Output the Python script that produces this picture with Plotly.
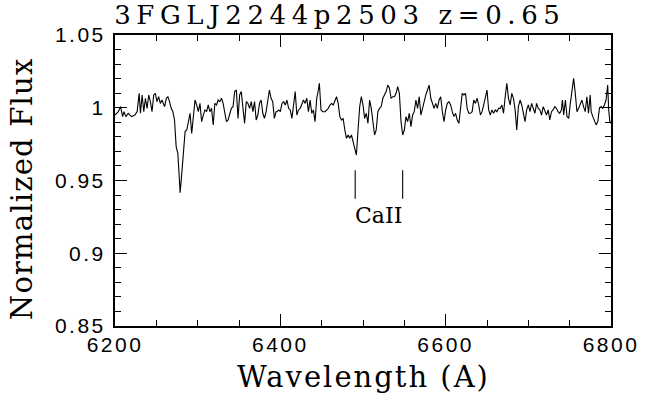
import plotly.graph_objects as go

# Normalized spectrum of 3FGL J2244.6+2503
wavelength = [
    6200.0, 6204.0, 6206.8, 6209.2, 6210.8, 6213.2, 6216.0, 6220.0, 6224.0, 6226.8,
    6229.2, 6230.8, 6232.8, 6234.8, 6236.8, 6238.8, 6240.8, 6242.8, 6244.8, 6246.8,
    6248.8, 6250.8, 6252.8, 6254.8, 6256.8, 6260.0, 6262.0, 6264.0, 6266.0, 6268.0,
    6270.0, 6272.0, 6274.0, 6276.0, 6277.2, 6278.8, 6280.8, 6282.8, 6284.8, 6286.8,
    6288.8, 6290.8, 6292.8, 6294.8, 6296.8, 6298.8, 6300.8, 6302.8, 6304.8, 6306.8,
    6308.8, 6310.8, 6312.8, 6314.8, 6316.8, 6318.8, 6320.8, 6322.8, 6324.8, 6326.8,
    6328.8, 6330.8, 6332.8, 6334.8, 6336.8, 6338.8, 6340.8, 6342.8, 6344.8, 6346.8,
    6348.8, 6350.8, 6352.8, 6354.8, 6356.8, 6358.8, 6360.8, 6362.8, 6364.8, 6366.8,
    6368.8, 6370.8, 6372.8, 6374.8, 6376.8, 6378.8, 6380.8, 6382.8, 6384.8, 6386.8,
    6388.8, 6390.8, 6392.8, 6394.8,
    6396.0, 6398.0, 6400.0, 6402.0, 6404.0, 6406.0, 6408.0, 6410.0, 6412.0, 6414.0,
    6416.0, 6418.0, 6420.0, 6422.0, 6424.0, 6426.0, 6428.0, 6430.0, 6432.0, 6434.0,
    6436.0, 6438.0, 6440.0, 6442.0, 6444.0, 6446.0, 6447.2, 6449.2, 6451.2, 6454.0,
    6458.0, 6460.0, 6462.0, 6464.0, 6466.0, 6468.0, 6470.0, 6472.0, 6474.0, 6476.0,
    6478.0, 6480.0, 6482.0, 6484.0, 6486.0, 6488.0, 6490.0, 6492.0, 6494.0, 6496.0,
    6498.0, 6500.0, 6502.0, 6504.0, 6506.0, 6508.0, 6510.0, 6512.0, 6514.0, 6516.0,
    6518.0, 6520.0, 6522.0, 6524.0, 6526.0, 6528.0, 6530.0, 6532.0, 6534.0, 6536.0,
    6538.0, 6540.0, 6542.0, 6544.0, 6546.0, 6548.0, 6550.0, 6552.0, 6554.0, 6556.0,
    6558.0, 6560.0, 6562.0, 6564.0, 6566.0, 6568.0, 6570.0, 6572.0, 6574.0, 6576.0,
    6578.0, 6580.0, 6582.0, 6584.0, 6586.0, 6588.0, 6590.0,
    6592.0, 6594.0, 6596.0, 6598.0, 6600.0, 6602.0, 6604.0, 6606.0, 6608.0, 6610.0,
    6612.0, 6614.0, 6616.0, 6618.0, 6620.0, 6622.0, 6624.0, 6626.0, 6628.0, 6630.0,
    6632.0, 6634.0, 6636.0, 6638.0, 6640.0, 6642.0, 6644.0, 6646.0, 6648.0, 6650.0,
    6652.0, 6654.0, 6656.0, 6658.0, 6660.0, 6662.0, 6664.0, 6666.0, 6668.0, 6670.0,
    6672.0, 6674.0, 6676.0, 6678.0, 6680.0, 6682.0, 6684.0, 6686.0, 6688.0, 6690.0,
    6692.0, 6694.0, 6696.0, 6698.0, 6700.0, 6702.0, 6704.0, 6706.0, 6708.0, 6710.0,
    6712.0, 6714.0, 6716.0, 6718.0, 6720.0, 6722.0, 6724.0, 6726.0, 6728.0, 6730.0,
    6732.0, 6734.0, 6736.0, 6738.0, 6740.0, 6741.2, 6742.8, 6744.8, 6746.8, 6748.8,
    6750.8, 6752.8, 6754.8, 6756.8, 6758.8, 6760.8, 6762.8, 6764.8, 6766.8, 6768.8,
    6770.8, 6772.8, 6774.8, 6776.0, 6778.0, 6780.0, 6782.0, 6784.0, 6786.0, 6788.0,
    6790.0, 6792.0, 6794.0, 6796.0, 6797.2, 6798.8, 6800.0,
]

flux = [
    0.9950, 0.9973, 1.0008, 0.9939, 0.9973, 0.9939, 0.9962, 0.9939, 0.9950, 0.9973,
    1.0099, 0.9962, 1.0088, 0.9973, 1.0065, 0.9996, 1.0088, 1.0042, 0.9973, 1.0088,
    1.0099, 1.0042, 1.0076, 1.0030, 1.0053, 1.0008, 1.0065, 1.0076, 1.0042, 0.9996,
    0.9973, 0.9916, 0.9733, 0.9687, 0.9572, 0.9416, 0.9549, 0.9733, 0.9836, 0.9847,
    0.9904, 0.9962, 0.9824, 0.9939, 1.0053, 1.0019, 0.9973, 1.0030, 0.9904, 0.9950,
    0.9985, 0.9973, 1.0019, 0.9973, 0.9996, 0.9882, 1.0030, 1.0019, 1.0053, 1.0042,
    1.0065, 1.0030, 0.9973, 0.9904, 0.9916, 0.9962, 0.9996, 1.0008, 1.0111, 1.0122,
    0.9927, 1.0088, 1.0111, 0.9996, 0.9893, 1.0042, 1.0030, 0.9996, 1.0042, 0.9973,
    1.0042, 0.9916, 0.9950, 1.0030, 1.0053, 0.9962, 0.9927, 0.9973, 1.0053, 1.0122,
    1.0065, 1.0042, 0.9927, 0.9973,
    0.9973, 0.9985, 0.9973, 1.0030, 1.0042, 1.0019, 1.0053, 0.9996, 0.9985, 0.9927,
    1.0019, 1.0111, 0.9950, 0.9985, 0.9996, 1.0019, 1.0053, 1.0030, 1.0065, 0.9973,
    1.0053, 0.9962, 0.9985, 0.9904, 1.0065, 1.0122, 1.0168, 0.9985, 0.9973, 0.9973,
    0.9996, 1.0019, 1.0030, 1.0019, 1.0042, 1.0076, 1.0030, 0.9939, 0.9916, 0.9927,
    0.9847, 0.9790, 0.9813, 0.9790, 0.9813, 0.9767, 0.9721, 0.9675, 0.9847, 1.0008,
    1.0076, 1.0019, 0.9927, 0.9962, 0.9893, 1.0053, 0.9996, 0.9916, 0.9813, 0.9847,
    0.9973, 0.9996, 1.0008, 1.0065, 1.0088, 1.0111, 1.0156, 1.0134, 1.0065, 1.0076,
    1.0076, 1.0099, 1.0145, 1.0099, 0.9904, 0.9813, 0.9847, 0.9939, 0.9904, 0.9962,
    0.9870, 0.9950, 0.9973, 1.0053, 0.9996, 1.0076, 0.9950, 0.9996, 1.0053, 1.0088,
    1.0122, 1.0156, 1.0065, 1.0030, 0.9996, 1.0030, 0.9996,
    1.0053, 1.0076, 0.9973, 0.9904, 0.9985, 1.0030, 1.0042, 1.0019, 0.9973, 0.9939,
    0.9962, 0.9916, 0.9893, 0.9985, 1.0099, 1.0088, 1.0099, 0.9996, 0.9962, 0.9962,
    0.9973, 1.0053, 1.0030, 1.0065, 1.0019, 0.9950, 0.9973, 1.0019, 1.0065, 1.0122,
    0.9985, 0.9950, 0.9985, 0.9962, 0.9985, 0.9973, 0.9996, 0.9996, 1.0019, 0.9962,
    1.0076, 1.0168, 1.0065, 1.0019, 1.0099, 1.0065, 0.9985, 0.9847, 1.0008, 1.0053,
    1.0019, 0.9962, 0.9904, 0.9985, 1.0019, 0.9973, 1.0030, 0.9996, 0.9962, 1.0030,
    0.9996, 0.9985, 0.9950, 1.0008, 0.9973, 0.9950, 0.9985, 0.9916, 0.9973, 0.9985,
    1.0008, 0.9996, 0.9973, 0.9962, 0.9985, 1.0053, 0.9950, 1.0053, 0.9939, 0.9927,
    1.0030, 1.0122, 1.0202, 1.0099, 0.9973, 0.9996, 1.0019, 1.0053, 1.0008, 0.9973,
    1.0076, 0.9962, 1.0088, 0.9973, 0.9939, 0.9904, 0.9882, 0.9904, 0.9996, 1.0008,
    0.9996, 1.0019, 1.0053, 1.0156, 0.9985, 0.9893, 0.9904,
]

# Ca II H & K rest wavelengths (air), redshifted to the source redshift
redshift = 0.65
caii_rest = [3933.66, 3968.47]
caii_tick_low = 0.9375
caii_tick_high = 0.957
caii_label_y = 0.926

title_text = "3FGLJ2244p2503 z=0.65"
x_title = "Wavelength (A)"
y_title = "Normalized Flux"

x_tickvals = [6200, 6400, 6600, 6800]
x_ticktext = ["6200", "6400", "6600", "6800"]
y_tickvals = [0.85, 0.90, 0.95, 1.00, 1.05]
y_ticktext = ["0.85", "0.9", "0.95", "1", "1.05"]

caii_obs = [w * (1 + redshift) for w in caii_rest]

fig = go.Figure()
fig.add_trace(go.Scatter(
    x=wavelength, y=flux, mode="lines",
    line=dict(color="black", width=1.1),
    hoverinfo="skip",
))

# vertical line markers for the Ca II doublet
mx, my = [], []
for w in caii_obs:
    mx += [w, w, None]
    my += [caii_tick_low, caii_tick_high, None]
fig.add_trace(go.Scatter(
    x=mx, y=my, mode="lines",
    line=dict(color="black", width=1.1),
    hoverinfo="skip",
))

serif = "DejaVu Serif"
tick_font = dict(family="Liberation Sans", size=21, color="black")

axis_common = dict(
    showline=True, linecolor="black", linewidth=2, mirror="allticks",
    ticks="inside", ticklen=12, tickwidth=1.2, tickcolor="black",
    showgrid=False, zeroline=False, tickfont=tick_font,
)

fig.update_xaxes(
    range=[6200, 6800], tickmode="array",
    tickvals=x_tickvals, ticktext=x_ticktext,
    ticklabelstandoff=-1,
    minor=dict(ticks="inside", ticklen=6, tickwidth=1, tickcolor="black",
               dtick=50, tick0=6200, showgrid=False),
    **axis_common,
)
fig.update_yaxes(
    range=[0.85, 1.05], tickmode="array",
    tickvals=y_tickvals, ticktext=y_ticktext,
    ticklabelstandoff=3,
    minor=dict(ticks="inside", ticklen=6, tickwidth=1, tickcolor="black",
               dtick=0.01, tick0=0.85, showgrid=False),
    **axis_common,
)

annotations = [
    dict(text=title_text, xref="paper", yref="paper", x=0.453, y=1.07,
         xanchor="center", yanchor="middle", showarrow=False,
         font=dict(family=serif, size=26, color="black")),
    dict(text=x_title, xref="paper", yref="paper", x=0.5, y=-0.175,
         xanchor="center", yanchor="middle", showarrow=False,
         font=dict(family=serif, size=29, color="black")),
    dict(text=y_title, xref="paper", yref="paper", x=-0.187, y=0.471,
         xanchor="center", yanchor="middle", textangle=-90, showarrow=False,
         font=dict(family=serif, size=29, color="black")),
    dict(text="CaII", xref="x", yref="y", x=sum(caii_obs) / 2, y=caii_label_y,
         xanchor="center", yanchor="middle", showarrow=False,
         font=dict(family=serif, size=22, color="black")),
]

fig.update_layout(
    width=646, height=406,
    margin=dict(l=115, r=31, t=35, b=80),
    plot_bgcolor="white", paper_bgcolor="white",
    showlegend=False,
    annotations=annotations,
)

# widen the letter spacing of the labels after the plot is drawn
spacing_js = """
var gd = document.getElementById('{plot_id}');
var sp = {'0': '5.6px', '1': '2px', '2': '1.2px'};
gd.querySelectorAll('g.annotation').forEach(function (g) {
  var i = g.getAttribute('data-index');
  if (sp[i]) {
    g.querySelectorAll('text').forEach(function (t) { t.style.letterSpacing = sp[i]; });
  }
});
gd.querySelectorAll('g.xtick text, g.ytick text').forEach(function (t) {
  t.style.letterSpacing = '2.5px';
});
"""

fig.write_html("out.html", post_script=spacing_js)
